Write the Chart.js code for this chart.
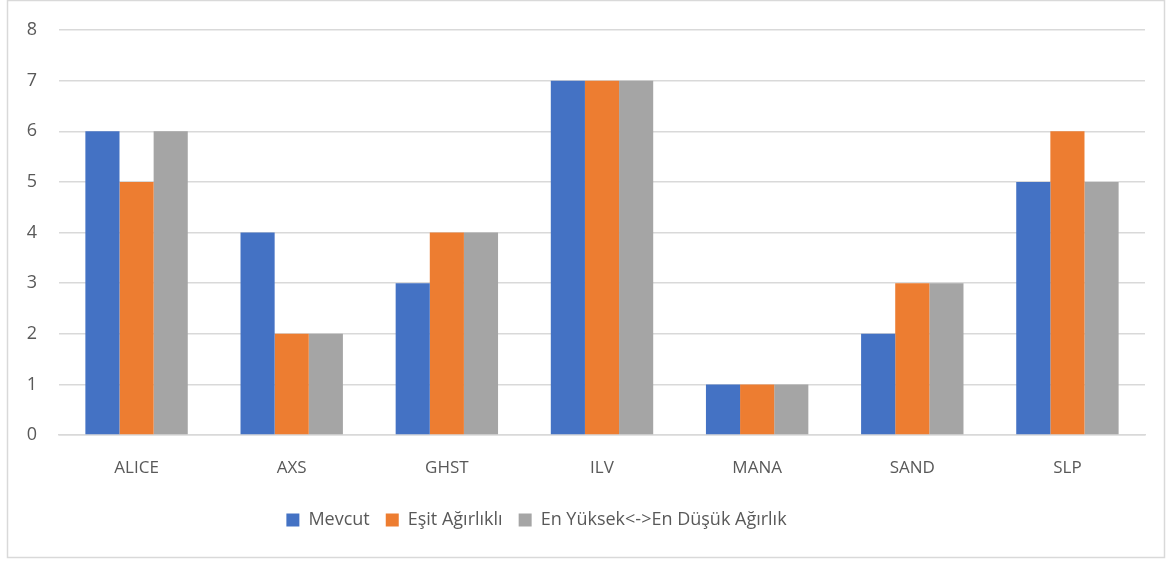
<!DOCTYPE html>
<html>
<head>
<meta charset="utf-8">
<script src="https://cdn.jsdelivr.net/npm/chart.js@4"></script>
<style>
  html, body { margin: 0; padding: 0; background: #fff; }
  #wrap { width: 1171px; height: 561px; }
</style>
</head>
<body>
<div id="wrap"><canvas id="myChart" width="1171" height="561"></canvas></div>
<script>
const categories = ['ALICE', 'AXS', 'GHST', 'ILV', 'MANA', 'SAND', 'SLP'];
const mevcut = [6, 4, 3, 7, 1, 2, 5];
const esitAgirlikli = [5, 2, 4, 7, 1, 3, 6];
const enYuksekEnDusuk = [6, 2, 4, 7, 1, 3, 5];
const seriesNames = ['Mevcut', 'Eşit Ağırlıklı', 'En Yüksek<->En Düşük Ağırlık'];
const yTicks = [0, 1, 2, 3, 4, 5, 6, 7, 8];

const font = "'Open Sans', 'Noto Sans', sans-serif";
const textColor = '#595959';

// frame round the whole chart, and nudge the legend left like the original
const outerBorder = {
    id: 'outerBorder',
    afterLayout(chart) {
        chart.legend.left -= 36;
        chart.legend.right -= 36;
    },
    afterDraw(chart) {
        const c = chart.ctx;
        c.save();
        c.strokeStyle = '#d9d9d9';
        c.lineWidth = 1.5;
        c.strokeRect(7.5, 0.5, 1157, 557);
        c.restore();
    }
};

const ctx = document.getElementById('myChart').getContext('2d');
const chart = new Chart(ctx, {
    type: 'bar',
    data: {
        labels: categories,
        datasets: [
            {label: seriesNames[0], data: mevcut, backgroundColor: '#4472C4'},
            {label: seriesNames[1], data: esitAgirlikli, backgroundColor: '#ED7D31'},
            {label: seriesNames[2], data: enYuksekEnDusuk, backgroundColor: '#A5A5A5'},
        ],
    },
    options: {
        responsive: false,
        animation: false,
        devicePixelRatio: 1,
        categoryPercentage: 0.66,
        barPercentage: 1,
        layout: {padding: {left: 0, top: 30, right: 26, bottom: 22}},
        plugins: {
            tooltip: {enabled: false},
            legend: {
                position: 'bottom',
                labels: {
                    color: textColor,
                    font: {family: font, size: 18},
                    boxWidth: 13,
                    boxHeight: 13,
                    padding: 16,
                },
            },
        },
        scales: {
            x: {
                grid: {display: false, drawTicks: false},
                border: {color: '#d9d9d9', width: 1.5},
                ticks: {color: textColor, font: {family: font, size: 17}, padding: 23},
                afterFit(scale) { scale.height = 60; },
            },
            y: {
                min: 0,
                max: 8,
                afterBuildTicks(scale) { scale.ticks = yTicks.map(v => ({value: v})); },
                grid: {color: '#d9d9d9', lineWidth: 1.5, drawTicks: false},
                border: {display: false},
                ticks: {color: textColor, font: {family: font, size: 18}, padding: 22},
                afterFit(scale) {
                    scale.width = 59;
                    scale.paddingTop = 0;
                    scale.paddingBottom = 0;
                },
            },
        },
    },
    plugins: [outerBorder],
});
</script>
</body>
</html>
